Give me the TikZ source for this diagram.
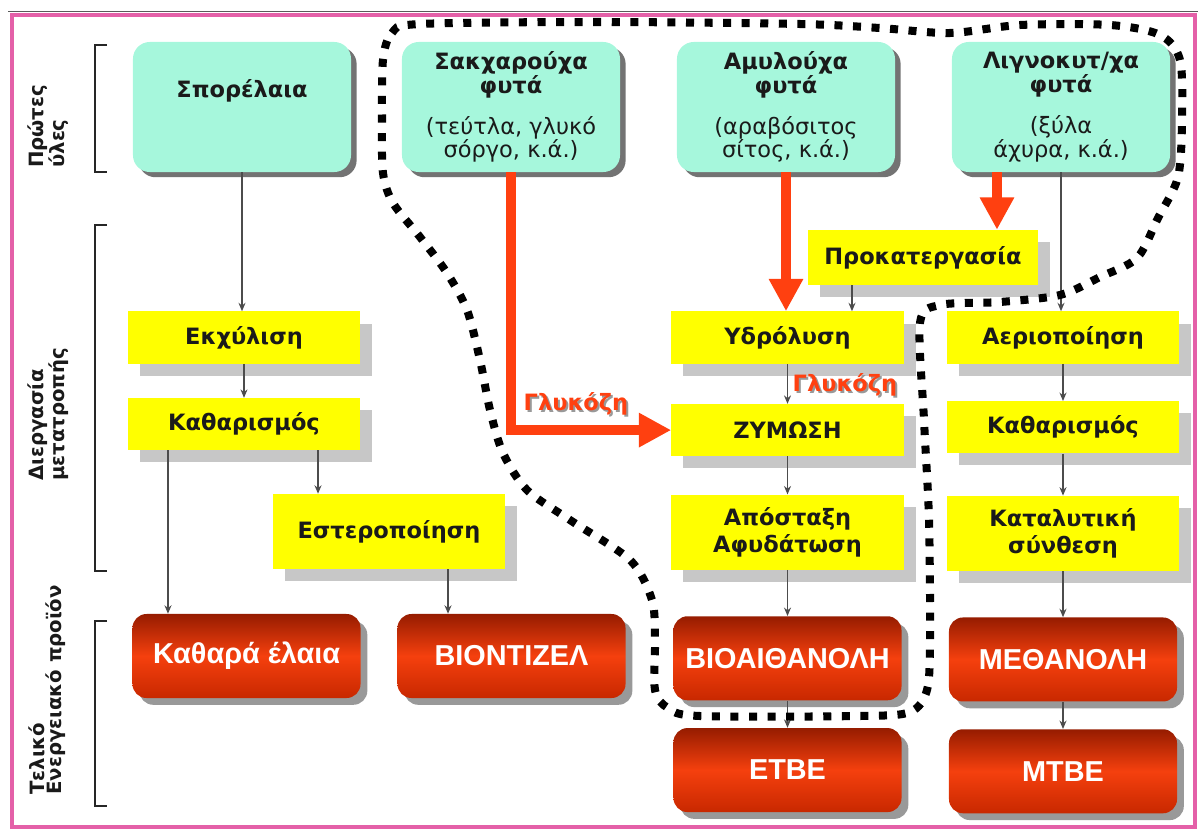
\documentclass[tikz,border=0pt]{standalone}
\usepackage{fontspec}
\setmainfont{DejaVu Sans}
\newfontfamily\prodfont{Liberation Sans}
\usetikzlibrary{arrows.meta, positioning, shadows}

\definecolor{rawfill}{RGB}{166,247,220}
\definecolor{procfill}{RGB}{255,255,0}
\definecolor{arrowred}{RGB}{255,64,16}
\definecolor{prodtop}{RGB}{150,28,0}
\definecolor{prodmid}{RGB}{245,64,14}
\definecolor{prodbot}{RGB}{200,40,0}
\definecolor{framepink}{RGB}{228,96,168}
\definecolor{inkdark}{RGB}{26,26,26}

\begin{document}
\begin{tikzpicture}[x=0.025cm, y=-0.025cm,
        raw/.style={rectangle, rounded corners=12pt, fill=rawfill, text=inkdark,
                    minimum width=5.45cm, minimum height=3.25cm, align=center,
                    font=\fontsize{16}{17}\selectfont,
                    general shadow={fill=black!55, shadow xshift=0.14cm, shadow yshift=-0.13cm}},
        proc/.style={rectangle, fill=procfill, text=inkdark, minimum width=5.8cm,
                     minimum height=1.3cm, align=center,
                     font=\bfseries\fontsize{16}{19}\selectfont,
                     general shadow={fill=black!22, shadow xshift=0.3cm, shadow yshift=-0.3cm}},
        tall/.style={proc, minimum height=1.875cm},
        prod/.style={rectangle, rounded corners=10pt, top color=prodtop, bottom color=prodbot,
                     middle color=prodmid, text=white, minimum width=5.7cm, minimum height=2.1cm,
                     font=\prodfont\bfseries\fontsize{20.5}{22}\selectfont,
                     general shadow={fill=black!40, shadow xshift=0.17cm, shadow yshift=-0.17cm}},
        conn/.style={-{Stealth[length=6pt,width=5pt]}, line width=0.8pt, black!70},
        redarr/.style={-{Triangle[length=23pt,width=23pt]}, line width=7pt, arrowred},
        sugar/.style={text=arrowred, font=\bfseries\fontsize{16}{17}\selectfont, inner sep=0pt},
        sugarshade/.style={sugar, text=black!40},
        side/.style={rotate=90, anchor=north west, align=left, inner sep=0pt, text=inkdark,
                     font=\bfseries\fontsize{14}{12.5}\selectfont},
        brk/.style={line width=2pt, black!85},
        ring/.style={line width=5.7pt, dash pattern=on 5.7pt off 7.5pt, black}]
  \useasboundingbox (0,0) rectangle (1198,830);
  % frame
  \draw[line width=2.2pt, framepink] (12,15) rectangle (1195,827);
  \draw[line width=0.8pt, black!65] (8,11.5) -- (1198,11.5);

  % stage brackets and labels
  \draw[brk] (107,45) -| (95,172) -- (107,172);
  \draw[brk] (107,225) -| (95,571) -- (107,571);
  \draw[brk] (107,621) -| (95,806) -- (107,806);
  \node[side] (lraw) at (27,168) {Πρώτες\\ύλες};
  \node[side] (lproc) at (27,481) {Διεργασία\\μετατροπής};
  \node[side] (lprod) at (28,795) {Τελικό\\Ενεργειακό προϊόν};

  % raw materials
  \node[raw, text depth=0.9cm] (spor) at (242,107) {\bfseries Σπορέλαια};
  \node[raw] (sakx) at (511,107) {\bfseries Σακχαρούχα\\\bfseries φυτά\\[12pt](τεύτλα, γλυκό\\σόργο, κ.ά.)};
  \node[raw] (amyl) at (786,107) {\bfseries Αμυλούχα\\\bfseries φυτά\\[12pt](αραβόσιτος\\σίτος, κ.ά.)};
  \node[raw] (lign) at (1061,107) {\bfseries Λιγνοκυτ/χα\\\bfseries φυτά\\[12pt](ξύλα\\άχυρα, κ.ά.)};

  % conversion steps
  \node[proc] (ekx) at (244,337.5) {Εκχύλιση};
  \node[proc, below=0.85cm of ekx] (kath1) {Καθαρισμός};
  \node[tall] (ester) at (389,531.5) {Εστεροποίηση};
  \node[proc, minimum width=5.75cm, minimum height=1.375cm] (prok) at (923,257.5) {Προκατεργασία};
  \node[proc] (hydr) at (787.5,337.5) {Υδρόλυση};
  \node[proc, below=1cm of hydr] (zym) {ΖΥΜΩΣΗ};
  \node[tall, below=0.95cm of zym] (apos) {Απόσταξη\\Αφυδάτωση};
  \node[proc] (aer) at (1063,337.5) {Αεριοποίηση};
  \node[proc, below=0.93cm of aer] (kath2) {Καθαρισμός};
  \node[tall, below=1.05cm of kath2] (katal) {Καταλυτική\\σύνθεση};

  % products
  \node[prod] (oil) at (246.5,656) {Καθαρά έλαια};
  \node[prod] (biod) at (511.5,656) {ΒΙΟΝΤΙΖΕΛ};
  \node[prod, below=1.15cm of apos] (bioe) {ΒΙΟΑΙΘΑΝΟΛΗ};
  \node[prod, below=0.68cm of bioe] (etbe) {ETBE};
  \node[prod, below=1.15cm of katal] (meth) {ΜΕΘΑΝΟΛΗ};
  \node[prod, below=0.68cm of meth] (mtbe) {MTBE};

  % thin connectors
  \draw[conn] (spor.south) -- (spor.south |- ekx.north);
  \draw[conn] (ekx) -- (kath1);
  \draw[conn] ([xshift=-1.9cm]kath1.south) -- ([xshift=-1.9cm]kath1.south |- oil.north);
  \draw[conn] ([xshift=1.85cm]kath1.south) -- ([xshift=1.85cm]kath1.south |- ester.north);
  \draw[conn] ([xshift=1.475cm]ester.south) -- ([xshift=1.475cm]ester.south |- biod.north);
  \draw[conn] ([xshift=-1.775cm]prok.south) -- ([xshift=-1.775cm]prok.south |- hydr.north);
  \draw[conn] (lign.south) -- (lign.south |- aer.north);
  \draw[conn] (hydr) -- (zym);
  \draw[conn] (zym) -- (apos);
  \draw[conn] (apos.south) -- (apos.south |- bioe.north);
  \draw[conn] (bioe) -- (etbe);
  \draw[conn] (aer) -- (kath2);
  \draw[conn] (kath2) -- (katal);
  \draw[conn] (katal) -- (meth);
  \draw[conn] (meth) -- (mtbe);

  % sugar routes
  \draw[redarr] (sakx.south) |- (zym.west);
  \draw[redarr] (amyl.south) -- (amyl.south |- hydr.north);
  \draw[redarr] ([xshift=-1.6cm]lign.south) -- ([xshift=-1.6cm]lign.south |- prok.north);
  \node[sugarshade] (glu1s) at (578,406) {Γλυκόζη};
  \node[sugar] (glu1) at (576,404) {Γλυκόζη};
  \node[sugarshade] (glu2s) at (847,387) {Γλυκόζη};
  \node[sugar] (glu2) at (845,385) {Γλυκόζη};

  % ethanol path outline
  \draw[ring] plot[smooth cycle, tension=0.5] coordinates {(383,60) (392,33) (420,24) (600,22)
    (800,24) (880,28) (950,33) (1020,25) (1110,25) (1160,35) (1180,60) (1182,120) (1178,177)
    (1158,218) (1137,258) (1100,277) (1060,295) (1000,302) (940,305) (920,323) (924,420)
    (929,520) (930,640) (927,690) (910,712) (860,716) (700,716) (668,708) (655,690) (655,640)
    (652,600) (630,560) (570,520) (527,490) (503,453) (490,410) (480,360) (467,310) (447,273)
    (420,237) (393,203) (383,173) (382,120)};
\end{tikzpicture}
\end{document}
